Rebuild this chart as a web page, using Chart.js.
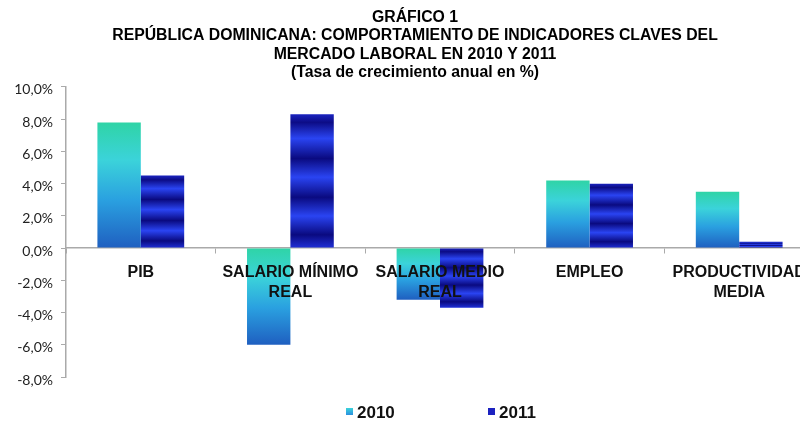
<!DOCTYPE html>
<html>
<head>
<meta charset="utf-8">
<script src="https://cdn.jsdelivr.net/npm/chart.js@4/dist/chart.umd.min.js"></script>
<style>
  html, body { margin: 0; padding: 0; background: #fff; overflow: hidden; }
  #wrap { width: 830px; height: 421px; }
</style>
</head>
<body>
<div id="wrap"><canvas id="chart" width="830" height="421"></canvas></div>
<script>
// data
const categories = ['PIB', ['SALARIO MÍNIMO', 'REAL'], ['SALARIO MEDIO', 'REAL'], 'EMPLEO', ['PRODUCTIVIDAD', 'MEDIA']];
const values2010 = [7.8, -6.0, -3.2, 4.2, 3.5];
const values2011 = [4.5, 8.3, -3.7, 4.0, 0.4];
const seriesLabels = ['2010', '2011'];
const titleLines = [
    'GRÁFICO 1',
    'REPÚBLICA DOMINICANA: COMPORTAMIENTO DE INDICADORES CLAVES DEL',
    'MERCADO LABORAL EN 2010 Y 2011',
    '(Tasa de crecimiento anual en %)'
];

// gradient stops (position, colour) for each series
const stops2010 = [[0, '#2fd4a6'], [0.3, '#3bd3da'], [0.62, '#2aa0e0'], [1, '#1f5fc0']];
const stops2011 = [
    [0, '#1a24c0'], [0.06, '#0c0c86'], [0.18, '#2a44f2'], [0.33, '#0a0a80'],
    [0.47, '#2a44f2'], [0.62, '#0a0a80'], [0.76, '#2a44f2'], [0.9, '#0a0a80'], [1, '#2030d8']
];

function barGradient(c, stops) {
    const chart = c.chart;
    if (!chart.chartArea || c.type !== 'data') return stops[1][1];
    const y = chart.scales.y;
    const v = c.raw;
    const top = y.getPixelForValue(Math.max(v, 0));
    const bottom = y.getPixelForValue(Math.min(v, 0));
    if (bottom - top < 1) return stops[1][1];
    const g = chart.ctx.createLinearGradient(0, top, 0, bottom);
    stops.forEach(s => g.addColorStop(s[0], s[1]));
    return g;
}

// small legend drawn under the plot, like the original
const bottomLegend = {
    id: 'bottomLegend',
    afterDraw(chart) {
        const ctx = chart.ctx;
        const g = ctx.createLinearGradient(0, 408, 0, 415);
        g.addColorStop(0, '#3bd3da');
        g.addColorStop(1, '#2a8fe0');
        const items = [{ x: 346, fill: g }, { x: 488, fill: '#1c22c0' }];
        ctx.save();
        ctx.font = 'bold 17px "Liberation Sans", Arial, sans-serif';
        ctx.textBaseline = 'middle';
        ctx.textAlign = 'left';
        items.forEach((it, i) => {
            ctx.fillStyle = it.fill;
            ctx.fillRect(it.x, 408, 7, 7);
            ctx.fillStyle = '#111';
            ctx.fillText(seriesLabels[i], it.x + 11, 413);
        });
        ctx.restore();
    }
};

new Chart(document.getElementById('chart'), {
    type: 'bar',
    data: {
        labels: categories,
        datasets: [
            { label: seriesLabels[0], data: values2010, backgroundColor: c => barGradient(c, stops2010) },
            { label: seriesLabels[1], data: values2011, backgroundColor: c => barGradient(c, stops2011) }
        ]
    },
    options: {
        responsive: false,
        animation: false,
        devicePixelRatio: 1,
        layout: { padding: { left: 0, right: 0, top: 0, bottom: 44 } },
        datasets: { bar: { categoryPercentage: 0.58, barPercentage: 1.0, borderWidth: 0 } },
        plugins: {
            legend: { display: false },
            tooltip: { enabled: false },
            title: {
                display: true,
                text: titleLines,
                color: '#000',
                font: { family: '"Liberation Sans Narrow", "Arial Narrow", "Liberation Sans", Arial', size: 15.8, weight: 'bold', lineHeight: 1.17 },
                padding: { top: 8, bottom: 5 }
            }
        },
        scales: {
            x: {
                position: { y: 0 },
                grid: { drawOnChartArea: false, drawTicks: true, tickLength: 5, color: '#aaa', offset: true },
                border: { display: true, color: '#aaa', width: 1.5 },
                ticks: {
                    z: 1, // category names sit on top of the bars
                    autoSkip: false, maxRotation: 0, padding: 10, color: '#111',
                    font: { family: '"Liberation Sans", Arial, sans-serif', size: 16, weight: 'bold', lineHeight: 1.25 }
                }
            },
            y: {
                min: -8, max: 10,
                afterFit: s => { s.width = 66; },
                grid: { drawOnChartArea: false, drawTicks: true, tickLength: 5, color: '#aaa' },
                border: { display: true, color: '#aaa', width: 1.5 },
                ticks: {
                    stepSize: 2, padding: 8, labelOffset: 3, color: '#222',
                    font: { family: 'Lato, "Open Sans", sans-serif', size: 14 },
                    callback: v => v.toFixed(1).replace('.', ',') + '%'
                }
            },
            // empty strip on the right so the plot stops short of the canvas edge
            pad: {
                type: 'linear', position: 'right', display: true,
                afterFit: s => { s.width = 16; },
                grid: { display: false }, border: { display: false }, ticks: { display: false }
            }
        }
    },
    plugins: [bottomLegend]
});
</script>
</body>
</html>
